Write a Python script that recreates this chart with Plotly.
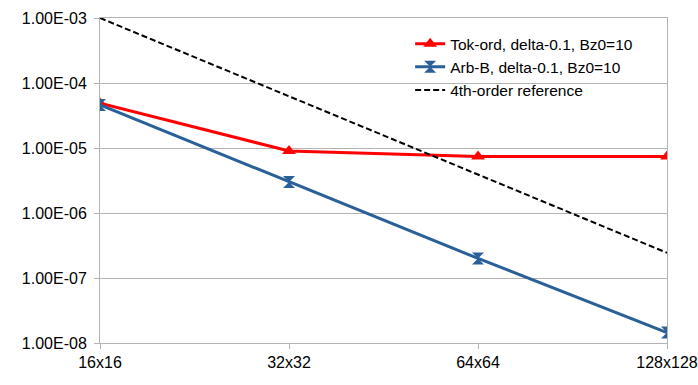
import plotly.graph_objects as go

grids = ["16x16", "32x32", "64x64", "128x128"]
tok_ord = [4.9e-5, 9.0e-6, 7.4e-6, 7.4e-6]
arb_b = [4.6e-5, 3.0e-6, 2.0e-7, 1.45e-8]
ref4 = [1.0e-3, 6.25e-5, 3.9e-6, 2.44e-7]
ytick_vals = [1e-3, 1e-4, 1e-5, 1e-6, 1e-7, 1e-8]
ytick_text = ["1.00E-03", "1.00E-04", "1.00E-05", "1.00E-06", "1.00E-07", "1.00E-08"]

fig = go.Figure()
fig.add_trace(go.Scatter(x=grids, y=tok_ord, name="Tok-ord, delta-0.1, Bz0=10",
                         mode="lines+markers",
                         line=dict(color="#ff0000", width=3),
                         marker=dict(symbol="triangle-up", size=12, color="#ff0000")))
fig.add_trace(go.Scatter(x=grids, y=arb_b, name="Arb-B, delta-0.1, Bz0=10",
                         mode="lines+markers",
                         line=dict(color="#2a6099", width=3),
                         marker=dict(symbol="hourglass", size=12, color="#2a6099")))
fig.add_trace(go.Scatter(x=grids, y=ref4, name="4th-order reference",
                         mode="lines",
                         line=dict(color="#000000", width=2, dash="6px,3px")))

fig.update_layout(
    width=698, height=385,
    margin=dict(l=100, r=31, t=18, b=42),
    paper_bgcolor="white", plot_bgcolor="white",
    font=dict(family="Liberation Sans, Arial, sans-serif", size=16, color="#000000"),
    showlegend=True,
    legend=dict(x=0.547, y=0.972, xanchor="left", yanchor="top",
                bgcolor="rgba(0,0,0,0)", font=dict(size=15.5), tracegroupgap=0),
)
fig.update_xaxes(type="category", range=[0, 3], showgrid=False, automargin=False,
                 showline=True, linecolor="#b3b3b3", linewidth=1, mirror=True,
                 ticks="outside", ticklen=5, tickcolor="#b3b3b3", zeroline=False)
fig.update_yaxes(type="log", range=[-8, -3], tickvals=ytick_vals, ticktext=ytick_text,
                 automargin=False, ticklabelstandoff=4,
                 showgrid=True, gridcolor="#b3b3b3", gridwidth=1,
                 showline=True, linecolor="#b3b3b3", linewidth=1, mirror=True,
                 ticks="outside", ticklen=5, tickcolor="#b3b3b3", zeroline=False)

fig.write_html("out.html", config={"displayModeBar": False},
               post_script="document.body.style.margin='0';document.body.style.overflow='hidden';")
